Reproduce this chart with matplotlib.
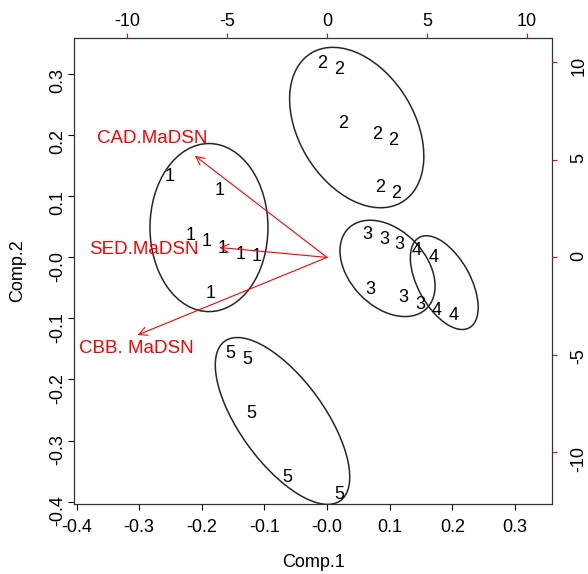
import matplotlib
matplotlib.use("Agg")
import matplotlib.pyplot as plt
from matplotlib.patches import Ellipse
import numpy as np

plt.rcParams['font.family'] = ['Liberation Sans', 'DejaVu Sans']
plt.rcParams['axes.unicode_minus'] = False

# PCA scores (Comp.1, Comp.2), one label per sample
group = [1, 1, 1, 1, 1, 1, 1, 1,
         2, 2, 2, 2, 2, 2, 2,
         3, 3, 3, 3, 3, 3,
         4, 4, 4, 4,
         5, 5, 5, 5, 5]
comp1 = [-0.251, -0.172, -0.218, -0.193, -0.166, -0.138, -0.112, -0.186,
         -0.0075, 0.0196, 0.026, 0.0794, 0.105, 0.0847, 0.110,
         0.0644, 0.091, 0.1155, 0.0698, 0.122, 0.1486,
         0.1433, 0.171, 0.1752, 0.2029,
         -0.155, -0.1267, -0.1214, -0.0634, 0.0196]
comp2 = [0.132, 0.110, 0.0367, 0.0256, 0.0148, 0.0049, 0.0021, -0.059,
         0.318, 0.308, 0.220, 0.202, 0.192, 0.115, 0.105,
         0.038, 0.0295, 0.0218, -0.0525, -0.0656, -0.0766,
         0.0108, 0.0, -0.0864, -0.0946,
         -0.157, -0.167, -0.255, -0.360, -0.388]

# group ellipses: centre, semi axes, angle (deg)
ell_c1 = [-0.1885, 0.0474, 0.0966, 0.1872, -0.0711]
ell_c2 = [0.0489, 0.2128, -0.018, -0.0413, -0.268]
ell_a = [0.1377, 0.142, 0.0906, 0.0841, 0.160]
ell_b = [0.0942, 0.0927, 0.0615, 0.042, 0.068]
ell_ang = [90, -60, -48, -62, -55]

# variable loadings (top/right axes)
var_names = ["CAD.MaDSN", "SED.MaDSN", "CBB. MaDSN"]
load1 = [-6.6, -5.39, -9.47]
load2 = [5.21, 0.51, -3.98]
name1 = [-8.75, -9.15, -9.55]
name2 = [6.11, 0.41, -4.67]

lim = (-0.404, 0.360)
ratio = 31.3

fig = plt.figure(figsize=(5.88, 5.74), dpi=100)
ax = fig.add_axes([0.1259, 0.1220, 0.8137, 0.8123])

for g, x, y in zip(group, comp1, comp2):
    ax.text(x, y, str(g), ha="center", va="center", fontsize=13, color="black")

for cx, cy, a, b, ang in zip(ell_c1, ell_c2, ell_a, ell_b, ell_ang):
    ax.add_patch(Ellipse((cx, cy), 2 * a, 2 * b, angle=ang, fill=False,
                         edgecolor="#262626", linewidth=1.1))

ax.set_xlim(lim)
ax.set_ylim(lim)
ticks = np.round(np.arange(-0.4, 0.31, 0.1), 1)
ax.set_xticks(ticks)
ax.set_xticklabels(["%.1f" % t for t in ticks])
ax.set_yticks(ticks)
ax.set_yticklabels(["%.1f" % t for t in ticks])
ax.tick_params(axis="both", direction="out", length=4.3, width=0.8, labelsize=13, colors="black")
ax.tick_params(axis="x", pad=6.5)
ax.tick_params(axis="y", pad=1.5, labelrotation=90)
for s in ax.spines.values():
    s.set_linewidth(0.9)
    s.set_color("#333333")
ax.set_xlabel("Comp.1", fontsize=13)
ax.set_ylabel("Comp.2", fontsize=13)
ax.xaxis.set_label_coords(0.5, -0.1265)
ax.xaxis.label.set_va("center")
ax.yaxis.set_label_coords(-0.117, 0.5)
ax.yaxis.label.set_va("center")

# second coordinate system for the loadings
ax2 = fig.add_axes(ax.get_position(), frameon=False)
ax2.set_xlim(lim[0] * ratio, lim[1] * ratio)
ax2.set_ylim(lim[0] * ratio, lim[1] * ratio)
ax2.xaxis.tick_top()
ax2.yaxis.tick_right()
ax2.set_xticks([-10, -5, 0, 5, 10])
ax2.set_yticks([-10, -5, 0, 5, 10])
ax2.tick_params(axis="both", direction="out", length=3.6, width=0.8, color="red",
                labelcolor="black", labelsize=13)
ax2.tick_params(axis="x", pad=1.6)
ax2.tick_params(axis="y", pad=9.5, labelrotation=90)

for lx, ly in zip(load1, load2):
    ax2.annotate("", xy=(lx, ly), xytext=(0, 0),
                 arrowprops=dict(arrowstyle="->", color="red", lw=0.8,
                                 shrinkA=0, shrinkB=0, mutation_scale=15))
for nm, nx, ny in zip(var_names, name1, name2):
    ax2.text(nx, ny, nm, color="red", fontsize=13.5, ha="center", va="center")

fig.savefig("out.png", dpi=100)
